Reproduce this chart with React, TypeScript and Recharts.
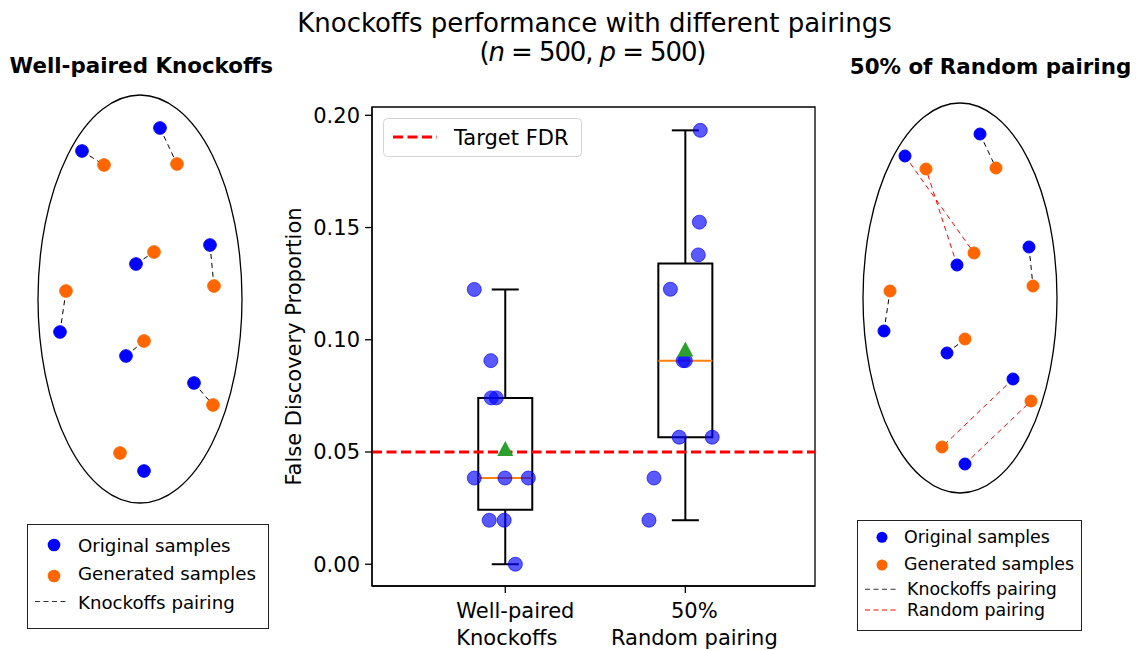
import React from "react";
import {
  ComposedChart,
  ScatterChart,
  Scatter,
  XAxis,
  YAxis,
  ReferenceLine,
  ReferenceArea,
  Legend,
  Label,
} from "recharts";

const FONT = "'DejaVu Sans', sans-serif";
const BLUE = "#0000ff";
const ORANGE = "#ff6600";

// False discovery proportion per run, with the x jitter used to spread the points
const wellPairedFdp = [0.1224, 0.0907, 0.0741, 0.0741, 0.0384, 0.0384, 0.0384, 0.0196, 0.0196, 0.0];
const wellPairedJitter = [-0.172, -0.08, -0.078, -0.05, -0.172, -0.002, 0.128, -0.089, -0.006, 0.056];
const randomFdp = [0.1933, 0.1524, 0.1378, 0.1225, 0.0907, 0.0907, 0.0566, 0.0566, 0.0384, 0.0196];
const randomJitter = [0.083, 0.078, 0.072, -0.083, -0.012, 0.0, -0.034, 0.149, -0.174, -0.202];

const groupLabels = [
  ["Well-paired", "Knockoffs"],
  ["50%", "Random pairing"],
];
// first label block is left-aligned, second centred; both sit a little right of the tick
const groupLabelAlign = [
  { anchor: "start", dx: -49 },
  { anchor: "middle", dx: 9 },
];
const yTicks = [0, 0.05, 0.1, 0.15, 0.2];
const targetFdr = 0.05;

// Sketch panels: sample positions relative to the ellipse centre (y up)
const wellOriginal = [[20, 171], [-58, 148], [70, 54], [-4, 35], [-80, -33], [-14, -57], [54, -84], [4, -172]];
const wellGenerated = [[37, 135], [-36, 134], [74, 13], [14, 47], [-74, 8], [4, -42], [73, -106], [-20, -154]];
const wellPairs = [[0, 0], [1, 1], [2, 2], [3, 3], [4, 4], [5, 5], [6, 6]];

const mixOriginal = [[20, 164], [-55, 142], [69, 51], [-3, 33], [-76, -33], [-13, -55], [53, -81], [5, -166]];
const mixGenerated = [[36, 130], [-34, 129], [14, 45], [73, 12], [-70, 7], [5, -41], [71, -103], [-18, -149]];
const mixKnockoffPairs = [[0, 0], [2, 3], [4, 4], [5, 5]];
const mixRandomPairs = [[1, 2], [3, 1], [6, 7], [7, 6]];

function quantile(sorted: number[], q: number) {
  const pos = (sorted.length - 1) * q;
  const lo = Math.floor(pos);
  const hi = Math.ceil(pos);
  return sorted[lo] + (sorted[hi] - sorted[lo]) * (pos - lo);
}

function boxStats(values: number[]) {
  const s = [...values].sort((a, b) => a - b);
  const q1 = quantile(s, 0.25);
  const q3 = quantile(s, 0.75);
  const iqr = q3 - q1;
  return {
    q1,
    q3,
    med: quantile(s, 0.5),
    lo: s.find((v) => v >= q1 - 1.5 * iqr) as number,
    hi: [...s].reverse().find((v) => v <= q3 + 1.5 * iqr) as number,
    mean: s.reduce((a, b) => a + b, 0) / s.length,
  };
}

const groups = [
  { pos: 1, fdp: wellPairedFdp, jitter: wellPairedJitter },
  { pos: 2, fdp: randomFdp, jitter: randomJitter },
].map((g) => ({
  ...g,
  stats: boxStats(g.fdp),
  points: g.fdp.map((y, i) => ({ x: g.pos + g.jitter[i], y })),
}));

const toXY = ([x, y]: number[]) => ({ x, y });

const dot = (fill: string, r: number, opacity = 1) => (p: any) => (
  <circle cx={p.cx} cy={p.cy} r={r} fill={fill} fillOpacity={opacity} stroke={fill} strokeOpacity={opacity} />
);

const triangle = (p: any) => (
  <polygon
    points={`${p.cx},${p.cy - 7.5} ${p.cx - 8},${p.cy + 7.5} ${p.cx + 8},${p.cy + 7.5}`}
    fill="#2ca02c"
  />
);

const nothing = () => <g />;

function GroupTick(props: any) {
  const idx = Math.round(props.payload.value) - 1;
  const lines = groupLabels[idx] || [];
  const align = groupLabelAlign[idx] || { anchor: "middle", dx: 0 };
  const x = props.x + align.dx;
  return (
    <text x={x} textAnchor={align.anchor} fontSize={21} fill="#000" fontFamily={FONT}>
      {lines.map((l, i) => (
        <tspan key={i} x={x} y={props.y + 22 + i * 26.5}>
          {l}
        </tspan>
      ))}
    </text>
  );
}

function YTitle(props: any) {
  const vb = props.viewBox || { y: 17, height: 479 };
  const cy = vb.y + vb.height / 2;
  return (
    <text
      x={20.5}
      y={cy}
      transform={`rotate(-90, 20.5, ${cy})`}
      textAnchor="middle"
      fontSize={21}
      fill="#000"
      fontFamily={FONT}
    >
      False Discovery Proportion
    </text>
  );
}

function TargetLegend() {
  return (
    <svg width={199} height={39}>
      <rect x={0.5} y={0.5} width={198} height={38} rx={4} fill="#fff" fillOpacity={0.8} stroke="#d4d4d4" />
      <line x1={10} x2={54} y1={19} y2={19} stroke="red" strokeWidth={3} strokeDasharray="10 4.5" />
      <text x={71} y={26.5} fontSize={21} fill="#000" fontFamily={FONT}>
        Target FDR
      </text>
    </svg>
  );
}

function SampleLegend({ withRandom }: { withRandom: boolean }) {
  if (!withRandom) {
    return (
      <svg width={242} height={105}>
        <rect x={0.5} y={0.5} width={241} height={104} fill="#fff" stroke="#222" />
        <circle cx={27} cy={21} r={6.3} fill={BLUE} />
        <circle cx={27} cy={52} r={6.3} fill={ORANGE} />
        <line x1={8} x2={42} y1={77.5} y2={77.5} stroke="#333" strokeWidth={1.1} strokeDasharray="5 3.5" />
        <g fontSize={18.2} fill="#000" fontFamily={FONT}>
          <text x={51} y={27.7}>Original samples</text>
          <text x={51} y={56}>Generated samples</text>
          <text x={51} y={84.5}>Knockoffs pairing</text>
        </g>
      </svg>
    );
  }
  return (
    <svg width={226} height={112}>
      <rect x={0.5} y={0.5} width={224} height={110} fill="#fff" stroke="#222" />
      <circle cx={25} cy={17.3} r={5.5} fill={BLUE} />
      <circle cx={25} cy={45} r={5.5} fill={ORANGE} />
      <line x1={8} x2={39.5} y1={69.3} y2={69.3} stroke="#333" strokeWidth={1.1} strokeDasharray="5 3.5" />
      <line x1={8} x2={39.5} y1={90} y2={90} stroke="red" strokeWidth={1.1} strokeDasharray="5 3.5" />
      <g fontSize={17.4} fill="#000" fontFamily={FONT}>
        <text x={47} y={23.3}>Original samples</text>
        <text x={47} y={50}>Generated samples</text>
        <text x={50} y={74.5}>Knockoffs pairing</text>
        <text x={50} y={95.5}>Random pairing</text>
      </g>
    </svg>
  );
}

function PairingSketch(props: {
  width: number;
  xDomain: number[];
  yDomain: number[];
  rx: number;
  ry: number;
  original: number[][];
  generated: number[][];
  knockoffPairs: number[][];
  randomPairs: number[][];
  dotR: number;
  legendPos: { left: number; top: number };
}) {
  const { original, generated } = props;
  return (
    <ScatterChart width={props.width} height={560} margin={{ top: 0, right: 0, bottom: 120, left: 0 }}>
      <XAxis type="number" dataKey="x" domain={props.xDomain} hide allowDataOverflow />
      <YAxis type="number" dataKey="y" domain={props.yDomain} hide allowDataOverflow />
      <Scatter
        data={[{ x: 0, y: 0 }]}
        isAnimationActive={false}
        shape={(p: any) => (
          <ellipse cx={p.cx} cy={p.cy} rx={props.rx} ry={props.ry} fill="none" stroke="#000" strokeWidth={1.3} />
        )}
      />
      {props.knockoffPairs.map(([b, g], i) => (
        <Scatter
          key={`k${i}`}
          data={[toXY(original[b]), toXY(generated[g])]}
          line={{ stroke: "#000", strokeWidth: 1, strokeDasharray: "5 4" }}
          shape={nothing}
          isAnimationActive={false}
        />
      ))}
      {props.randomPairs.map(([b, g], i) => (
        <Scatter
          key={`r${i}`}
          data={[toXY(original[b]), toXY(generated[g])]}
          line={{ stroke: "red", strokeWidth: 1, strokeDasharray: "5 4" }}
          shape={nothing}
          isAnimationActive={false}
        />
      ))}
      <Scatter data={original.map(toXY)} shape={dot(BLUE, props.dotR)} isAnimationActive={false} />
      <Scatter data={generated.map(toXY)} shape={dot(ORANGE, props.dotR)} isAnimationActive={false} />
      <Legend
        layout="horizontal"
        verticalAlign="middle"
        align="center"
        wrapperStyle={{ left: props.legendPos.left, top: props.legendPos.top, width: "auto", height: "auto" }}
        content={() => <SampleLegend withRandom={props.randomPairs.length > 0} />}
      />
    </ScatterChart>
  );
}

export default function App() {
  const xDomain = [0.26, 2.72];
  const yDomain = [-0.0097, 0.2037];
  return (
    <div
      style={{
        position: "absolute",
        left: 0,
        top: 0,
        width: 1140,
        height: 650,
        background: "#fff",
        fontFamily: FONT,
        overflow: "hidden",
      }}
    >
      <svg width={1140} height={650} style={{ position: "absolute", left: 0, top: 0 }} fontFamily={FONT}>
        <text x={594.5} y={31.5} textAnchor="middle" fontSize={26} fill="#000">
          Knockoffs performance with different pairings
        </text>
        <text
          x={593}
          y={61}
          textAnchor="middle"
          fontSize={26}
          fill="#000"
          textLength={227}
          lengthAdjust="spacing"
        >
          (<tspan fontStyle="italic">n</tspan> = 500, <tspan fontStyle="italic">p</tspan> = 500)
        </text>
        <text x={141.3} y={73} textAnchor="middle" fontSize={21.4} fontWeight="bold" fill="#000">
          Well-paired Knockoffs
        </text>
        <text x={990.5} y={74} textAnchor="middle" fontSize={21.4} fontWeight="bold" fill="#000">
          50% of Random pairing
        </text>
      </svg>

      <div style={{ position: "absolute", left: 0, top: 80 }}>
        <PairingSketch
          width={290}
          xDomain={[-140, 150]}
          yDomain={[-221, 219]}
          rx={102}
          ry={204}
          original={wellOriginal}
          generated={wellGenerated}
          knockoffPairs={wellPairs}
          randomPairs={[]}
          dotR={6.3}
          legendPos={{ left: 27, top: 444 }}
        />
      </div>

      <div style={{ position: "absolute", left: 840, top: 80 }}>
        <PairingSketch
          width={300}
          xDomain={[-120, 180]}
          yDomain={[-222, 218]}
          rx={97}
          ry={195}
          original={mixOriginal}
          generated={mixGenerated}
          knockoffPairs={mixKnockoffPairs}
          randomPairs={mixRandomPairs}
          dotR={6}
          legendPos={{ left: 17, top: 440 }}
        />
      </div>

      <div style={{ position: "absolute", left: 280, top: 90 }}>
        <ComposedChart width={560} height={560} margin={{ top: 17, right: 25, bottom: 0, left: 0 }}>
          <XAxis
            type="number"
            dataKey="x"
            domain={xDomain}
            allowDataOverflow
            ticks={[1, 2]}
            interval={0}
            height={64}
            tickSize={7}
            tickMargin={3}
            axisLine={{ stroke: "#000", strokeWidth: 1.3 }}
            tickLine={{ stroke: "#000", strokeWidth: 1.3 }}
            tick={(p: any) => <GroupTick {...p} />}
          />
          <YAxis
            type="number"
            dataKey="y"
            domain={yDomain}
            allowDataOverflow
            ticks={yTicks}
            interval={0}
            width={92}
            tickSize={7}
            tickMargin={5}
            tickFormatter={(v: number) => v.toFixed(2)}
            axisLine={{ stroke: "#000", strokeWidth: 1.3 }}
            tickLine={{ stroke: "#000", strokeWidth: 1.3 }}
            tick={{ fontSize: 21, fill: "#000", fontFamily: FONT }}
          >
            <Label content={(p: any) => <YTitle {...p} />} />
          </YAxis>
          <ReferenceArea
            x1={xDomain[0]}
            x2={xDomain[1]}
            y1={yDomain[0]}
            y2={yDomain[1]}
            fill="none"
            fillOpacity={0}
            stroke="#000"
            strokeWidth={1.3}
          />
          {groups.map((g) => (
            <Scatter
              key={`pts${g.pos}`}
              data={g.points}
              shape={dot(BLUE, 7, 0.65)}
              isAnimationActive={false}
            />
          ))}
          {groups.map((g) => (
            <ReferenceArea
              key={`box${g.pos}`}
              x1={g.pos - 0.15}
              x2={g.pos + 0.15}
              y1={g.stats.q1}
              y2={g.stats.q3}
              fill="none"
              fillOpacity={0}
              stroke="#000"
              strokeWidth={2}
            />
          ))}
          {groups.map((g) => (
            <ReferenceLine
              key={`wl${g.pos}`}
              segment={[{ x: g.pos, y: g.stats.lo }, { x: g.pos, y: g.stats.q1 }]}
              stroke="#000"
              strokeWidth={2}
            />
          ))}
          {groups.map((g) => (
            <ReferenceLine
              key={`wh${g.pos}`}
              segment={[{ x: g.pos, y: g.stats.q3 }, { x: g.pos, y: g.stats.hi }]}
              stroke="#000"
              strokeWidth={2}
            />
          ))}
          {groups.map((g) => (
            <ReferenceLine
              key={`cl${g.pos}`}
              segment={[{ x: g.pos - 0.075, y: g.stats.lo }, { x: g.pos + 0.075, y: g.stats.lo }]}
              stroke="#000"
              strokeWidth={2}
            />
          ))}
          {groups.map((g) => (
            <ReferenceLine
              key={`ch${g.pos}`}
              segment={[{ x: g.pos - 0.075, y: g.stats.hi }, { x: g.pos + 0.075, y: g.stats.hi }]}
              stroke="#000"
              strokeWidth={2}
            />
          ))}
          {groups.map((g) => (
            <ReferenceLine
              key={`med${g.pos}`}
              segment={[{ x: g.pos - 0.15, y: g.stats.med }, { x: g.pos + 0.15, y: g.stats.med }]}
              stroke="#ff7f0e"
              strokeWidth={2}
            />
          ))}
          <Scatter
            data={groups.map((g) => ({ x: g.pos, y: g.stats.mean }))}
            shape={triangle}
            isAnimationActive={false}
          />
          <ReferenceLine y={targetFdr} stroke="red" strokeWidth={3} strokeDasharray="10 4.5" />
          <Legend
            layout="horizontal"
            verticalAlign="middle"
            align="center"
            wrapperStyle={{ left: 103, top: 28, width: "auto", height: "auto" }}
            content={() => <TargetLegend />}
          />
        </ComposedChart>
      </div>
    </div>
  );
}
